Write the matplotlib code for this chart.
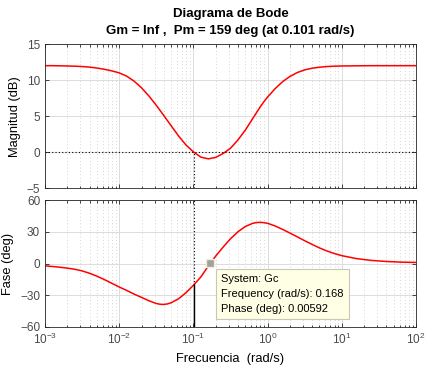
import numpy as np
import matplotlib
matplotlib.use("Agg")
import matplotlib.pyplot as plt
import matplotlib.ticker as mticker
from matplotlib.transforms import offset_copy

plt.rcParams['font.family'] = ['Liberation Sans', 'DejaVu Sans']
plt.rcParams['mathtext.default'] = 'regular'

# frequency grid (log10 of rad/s) and values
log_w = [-3.0, -2.9, -2.8, -2.7, -2.6, -2.5, -2.4, -2.3, -2.2, -2.1,
         -2.0, -1.9, -1.8, -1.7, -1.6, -1.5, -1.45, -1.4, -1.35, -1.3, -1.2, -1.1,
         -1.0, -0.9, -0.8, -0.7, -0.6, -0.5, -0.4, -0.3, -0.2, -0.15, -0.1, -0.05,
         0.0, 0.1, 0.2, 0.3, 0.4, 0.5, 0.6, 0.7, 0.8, 0.9,
         1.0, 1.2, 1.4, 1.6, 1.8, 2.0]
mag_db = [12.0, 12.0, 11.98, 11.96, 11.93, 11.88, 11.8, 11.67, 11.5, 11.28,
          11.0, 10.55, 9.86, 8.94, 7.8, 6.5, 5.8, 5.1, 4.38, 3.67, 2.25, 1.0,
          0.05, -0.68, -0.92, -0.72, -0.18, 0.55, 1.7, 3.07, 4.68, 5.48, 6.28, 7.0,
          7.66, 8.8, 9.77, 10.5, 11.05, 11.42, 11.65, 11.79, 11.88, 11.93,
          11.96, 11.98, 12.0, 12.0, 12.0, 12.0]
phase_deg = [-2.2, -2.8, -3.5, -4.4, -5.4, -7.0, -9.2, -12.0, -15.2, -18.7,
             -22.2, -25.4, -28.9, -32.0, -35.2, -37.8, -38.5, -38.7, -38.2, -37.1, -33.3, -27.6,
             -20.6, -12.7, -2.5, 7.0, 15.5, 23.4, 30.0, 35.0, 38.0, 38.7, 38.9, 38.6,
             38.0, 35.5, 32.3, 28.8, 25.2, 21.5, 18.0, 14.7, 11.8, 9.4,
             7.4, 4.6, 2.9, 1.9, 1.3, 1.0]

w = 10 ** np.array(log_w)
wc = 0.101          # gain crossover
pm_phase = -20.4    # phase at crossover (read)
tip_w, tip_phase = 0.168, 0.00592

dark = '#262626'

fig = plt.figure(figsize=(4.27, 3.67), dpi=100)
ax1 = fig.add_axes([0.1054, 0.487, 0.8689, 0.393])
ax2 = fig.add_axes([0.1054, 0.109, 0.8689, 0.346])

for ax in (ax1, ax2):
    ax.set_xscale('log')
    ax.set_xlim(1e-3, 1e2)
    ax.xaxis.set_major_locator(mticker.LogLocator(base=10, numticks=10))
    ax.xaxis.set_minor_locator(mticker.LogLocator(base=10, subs=np.arange(2, 10), numticks=20))
    ax.grid(True, which='major', color='#dcdcdc', lw=0.7)
    ax.grid(True, which='minor', axis='x', color='#c8c8c8', lw=0.6, ls=(0, (1, 3)))
    ax.tick_params(which='both', direction='in', top=True, right=True,
                   colors=dark, labelsize=8.5, width=0.6)
    ax.tick_params(which='both', labelcolor='#4a4a4a')
    ax.tick_params(which='major', length=3)
    ax.tick_params(which='minor', length=1.8)
    for s in ax.spines.values():
        s.set_color(dark)
        s.set_linewidth(0.6)
    ax.set_axisbelow(True)

# magnitude
ax1.plot(w, mag_db, color='red', lw=1.1)
ax1.axhline(0, color='black', lw=0.8, ls=(0, (1, 2)))
ax1.plot([wc, wc], [-5, 0], color='black', lw=0.8, ls=(0, (1, 2)))
ax1.set_ylim(-5, 15)
ax1.set_yticks([-5, 0, 5, 10, 15])
ax1.tick_params(labelbottom=False)
ax1.set_ylabel('Magnitud (dB)', fontsize=9.3, color='black', labelpad=4)

# phase
ax2.plot(w, phase_deg, color='red', lw=1.1)
ax2.plot([wc, wc], [pm_phase, 60], color='black', lw=0.8, ls=(0, (1, 2)))
ax2.plot([wc, wc], [-60, pm_phase], color='black', lw=1)
ax2.set_ylim(-60, 60)
ax2.set_yticks([-60, -30, 0, 30, 60])
ax2.set_ylabel('Fase (deg)', fontsize=9.3, color='black', labelpad=4)
ax2.set_xlabel('Frecuencia  (rad/s)', fontsize=9.3, color='black', labelpad=4)

# data tip
ax2.plot([tip_w], [tip_phase], 's', ms=6, mfc='#a0a0a0', mec='#f0f0d0', mew=1, zorder=5)
tr = offset_copy(ax2.transData, fig=fig, x=11, y=-11, units='dots')
ax2.text(tip_w, tip_phase,
         'System: Gc\nFrequency (rad/s): 0.168\nPhase (deg): 0.00592',
         transform=tr, ha='left', va='top', fontsize=8, color='black',
         linespacing=1.6, zorder=6,
         bbox=dict(boxstyle='square,pad=0.45', fc='#ffffe6', ec='#c8c8b4', lw=0.8))

fig.text(0.54, 0.962, 'Diagrama de Bode', ha='center', va='center',
         fontsize=9.5, fontweight='bold')
fig.text(0.54, 0.915, 'Gm = Inf ,  Pm = 159 deg (at 0.101 rad/s)', ha='center',
         va='center', fontsize=9.5, fontweight='bold')

fig.savefig('out.png', dpi=100)
